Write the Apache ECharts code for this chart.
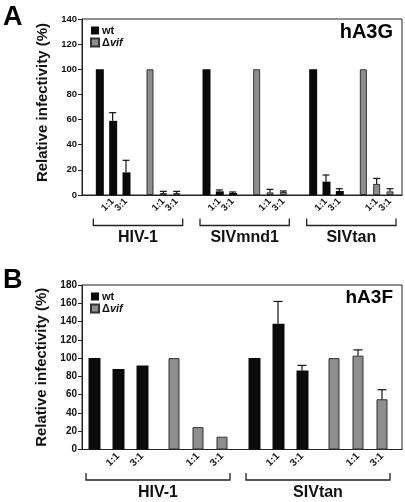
<!DOCTYPE html>
<html>
<head>
<meta charset="utf-8">
<script src="https://cdn.jsdelivr.net/npm/echarts@6/dist/echarts.min.js"></script>
<style>
html,body{margin:0;padding:0;background:#fff;}
#chart{width:405px;height:502px;}
</style>
</head>
<body>
<div id="chart"></div>
<script>
// ---------- data ----------
const ratioLabels = ['', '1:1', '3:1'];

// Panel A: hA3G
const hA3G_groups = ['HIV-1', 'SIVmnd1', 'SIVtan'];
const hA3G_wt     = [100, 59, 18,   100, 2.9, 1.6,  100, 10.6, 3.2];
const hA3G_wtErr  = [0,   6.5, 9.6, 0,   1.1, 0.8,  0,   5.3,  1.8];
const hA3G_vif    = [100, 1.6, 1.6, 100, 2.1, 2.4,  100, 8.8,  2.9];
const hA3G_vifErr = [0,   1.3, 1.3, 0,   2.4, 0.8,  0,   4.4,  2.1];
const hA3G_yMax = 140, hA3G_yStep = 20;

// Panel B: hA3F
const hA3F_groups = ['HIV-1', 'SIVtan'];
const hA3F_wt     = [100, 88, 92,   100, 137.5, 86.5];
const hA3F_wtErr  = [0,   0,  0,    0,   24.5,  5.5];
const hA3F_vif    = [100, 24.5, 14, 100, 102.7, 55];
const hA3F_vifErr = [0,   0,    0,  0,   6.3,   10.4];
const hA3F_yMax = 180, hA3F_yStep = 20;

// ---------- layout (slot positions on category axis) ----------
const FONT = "'Liberation Sans', Arial, Helvetica, sans-serif";
const BLACK = '#0a0a0a', GRAY = '#8e8e8e', GRAY_BORDER = '#333';

function buildPanel(cfg) {
  const L = cfg.layout;
  const cats = new Array(L.slots).fill('');
  const wtData = new Array(L.slots).fill('-');
  const vifData = new Array(L.slots).fill('-');
  const errData = [];
  const bracketData = [];
  cfg.groups.forEach((g, gi) => {
    let firstSlot = null, lastSlot = null;
    [0, 1].forEach(isVif => {
      for (let k = 0; k < 3; k++) {
        const s = L.first + gi * L.groupStride + (isVif ? L.vifOffset : 0) + k * L.barStep;
        const idx = gi * 3 + k;
        const v = isVif ? cfg.vif[idx] : cfg.wt[idx];
        const e = isVif ? cfg.vifErr[idx] : cfg.wtErr[idx];
        cats[s] = ratioLabels[k];
        if (isVif) vifData[s] = v; else wtData[s] = v;
        if (e > 0) errData.push([s, v, v + e]);
        if (firstSlot === null) firstSlot = s;
        lastSlot = s;
      }
    });
    bracketData.push([firstSlot, 0, lastSlot, gi]);
  });
  const gi = cfg.index;
  const bw = cfg.barWidth;
  const xAxis = {
    type: 'category', gridIndex: gi, data: cats,
    axisTick: {show: false},
    axisLine: {lineStyle: {color: '#222', width: 1}},
    axisLabel: {interval: 0, rotate: 45, margin: 5, fontSize: cfg.labelSize, fontWeight: 'bold', fontFamily: FONT, color: '#111'}
  };
  const yAxis = {
    type: 'value', gridIndex: gi, min: 0, max: cfg.yMax, interval: cfg.yStep,
    name: 'Relative infectivity (%)', nameLocation: 'middle', nameGap: 27,
    nameTextStyle: {fontSize: 15, fontWeight: 'bold', fontFamily: FONT, color: '#111', padding: cfg.namePad},
    axisLine: {show: true, lineStyle: {color: '#222', width: 1}},
    axisTick: {show: true, length: 4, lineStyle: {color: '#222'}},
    splitLine: {show: false},
    axisLabel: {margin: 5, fontSize: cfg.tickSize, fontWeight: 'bold', fontFamily: FONT, color: '#111'}
  };
  const series = [
    {type: 'bar', name: 'wt', xAxisIndex: gi, yAxisIndex: gi, data: wtData, barWidth: bw, barGap: '-100%',
     itemStyle: {color: BLACK}, animation: false},
    {type: 'bar', name: 'Δvif', xAxisIndex: gi, yAxisIndex: gi, data: vifData, barWidth: bw - 1, barGap: '-100%',
     itemStyle: {color: GRAY, borderColor: GRAY_BORDER, borderWidth: 1}, animation: false},
    {type: 'custom', xAxisIndex: gi, yAxisIndex: gi, data: errData, animation: false, z: 3,
     encode: {x: 0, y: [1, 2]},
     renderItem: function (params, api) {
       const p0 = api.coord([api.value(0), api.value(1)]);
       const p1 = api.coord([api.value(0), api.value(2)]);
       const hw = cfg.capWidth / 2;
       return {type: 'group', children: [
         {type: 'line', shape: {x1: p0[0], y1: p0[1], x2: p1[0], y2: p1[1]}, style: {stroke: '#111', lineWidth: 1.2}},
         {type: 'line', shape: {x1: p1[0] - hw, y1: p1[1], x2: p1[0] + hw, y2: p1[1]}, style: {stroke: '#111', lineWidth: 1.2}}
       ]};
     }},
    {type: 'custom', xAxisIndex: gi, yAxisIndex: gi, data: bracketData, animation: false, clip: false, silent: true,
     encode: {x: [0, 2], y: 1},
     renderItem: function (params, api) {
       const a = api.coord([api.value(0), 0]);
       const b = api.coord([api.value(2), 0]);
       const x1 = a[0] - bw / 2 - 2, x2 = b[0] + bw / 2 + 2;
       const yTop = a[1] + 23.5, yBot = a[1] + 30.5;
       const name = cfg.groups[api.value(3)];
       return {type: 'group', children: [
         {type: 'polyline', shape: {points: [[x1, yTop], [x1, yBot], [x2, yBot], [x2, yTop]]},
          style: {stroke: '#222', lineWidth: 1.3, fill: null}},
         {type: 'text', style: {text: name, x: (x1 + x2) / 2, y: a[1] + 43, align: 'center', verticalAlign: 'middle',
          fontSize: 16, fontWeight: 'bold', fontFamily: FONT, fill: '#111'}}
       ]};
     }}
  ];
  const legend = {
    left: cfg.legendLeft, top: cfg.legendTop, orient: 'vertical', icon: 'rect', padding: 0,
    itemWidth: 8, itemHeight: 8, itemGap: 1, data: ['wt', 'Δvif'],
    formatter: function (n) { return n === 'Δvif' ? '{d|Δ}{i|vif}' : '{b|wt}'; },
    textStyle: {padding: [0, 0, 0, -2], fontSize: 11, lineHeight: 11, fontFamily: FONT, color: '#111',
      rich: {b: {fontWeight: 'bold', fontSize: 11, fontFamily: FONT},
             d: {fontWeight: 'bold', fontSize: 11, fontFamily: FONT},
             i: {fontWeight: 'bold', fontStyle: 'italic', fontSize: 11, fontFamily: FONT}}}
  };
  return {xAxis, yAxis, series, legend};
}

const panelA = buildPanel({
  index: 0, groups: hA3G_groups, wt: hA3G_wt, wtErr: hA3G_wtErr, vif: hA3G_vif, vifErr: hA3G_vifErr,
  yMax: hA3G_yMax, yStep: hA3G_yStep,
  layout: {slots: 120, first: 6, groupStride: 40, barStep: 5, vifOffset: 19},
  barWidth: 8, capWidth: 7, labelSize: 9.5, tickSize: 9.5, legendLeft: 90, legendTop: 25, namePad: [0, 0, 0, 9]
});
const panelB = buildPanel({
  index: 1, groups: hA3F_groups, wt: hA3F_wt, wtErr: hA3F_wtErr, vif: hA3F_vif, vifErr: hA3F_vifErr,
  yMax: hA3F_yMax, yStep: hA3F_yStep,
  layout: {slots: 40, first: 1, groupStride: 20, barStep: 3, vifOffset: 10},
  barWidth: 12, capWidth: 9, labelSize: 10, tickSize: 10, legendLeft: 90, legendTop: 291, namePad: [0, 0, 0, 0]
});

const chart = echarts.init(document.getElementById('chart'), null, {renderer: 'canvas'});
chart.setOption({
  animation: false,
  backgroundColor: '#fff',
  grid: [
    {left: 82, right: 3, top: 19, bottom: 307, show: true, borderColor: '#222', borderWidth: 1, containLabel: false},
    {left: 82, right: 3, top: 285, bottom: 52.5, show: true, borderColor: '#222', borderWidth: 1, containLabel: false}
  ],
  xAxis: [panelA.xAxis, panelB.xAxis],
  yAxis: [panelA.yAxis, panelB.yAxis],
  legend: [panelA.legend, panelB.legend],
  series: panelA.series.concat(panelB.series),
  graphic: [
    {type: 'text', left: 3, top: 4, style: {text: 'A', fontSize: 27, fontWeight: 'bold', fontFamily: FONT, fill: '#000'}},
    {type: 'text', left: 3, top: 267, style: {text: 'B', fontSize: 27, fontWeight: 'bold', fontFamily: FONT, fill: '#000'}},
    {type: 'text', right: 12, top: 22, style: {text: 'hA3G', fontSize: 20, fontWeight: 'bold', fontFamily: FONT, fill: '#000'}},
    {type: 'text', right: 12, top: 288, style: {text: 'hA3F', fontSize: 19, fontWeight: 'bold', fontFamily: FONT, fill: '#000'}}
  ]
});
</script>
</body>
</html>
